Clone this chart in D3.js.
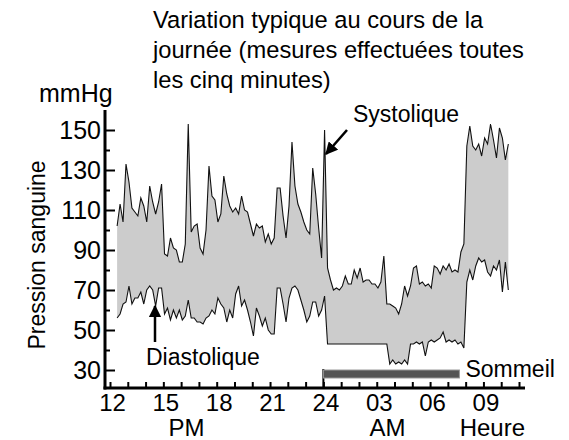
<!DOCTYPE html>
<html lang="fr">
<head>
<meta charset="UTF-8">
<title>Pression sanguine</title>
<script src="https://cdn.jsdelivr.net/npm/d3@7"></script>
<style>
    body {
        margin: 0;
        background: #fff;
        font-family: "Liberation Sans", Arial, Helvetica, sans-serif;
    }
</style>
</head>
<body>
<div id="chart"></div>
<script>
var width = 569,
    height = 440;

var titleLines = ["Variation typique au cours de la",
                  "journée (mesures effectuées toutes",
                  "les cinq minutes)"];

// one reading every 10 minutes, starting 12:24
var startHour = 12.4,
    stepHours = 10 / 60;

var systolic = [
    102, 113, 104, 133, 124, 111, 109, 107, 116, 112,
    104, 122, 114, 108, 114, 123, 88, 87, 96, 91,
    90, 84, 84, 93, 153, 99, 102, 103, 91, 88,
    100, 132, 117, 115, 104, 108, 127, 118, 112, 109,
    111, 108, 117, 110, 109, 103, 97, 103, 101, 102,
    94, 98, 93, 96, 121, 121, 107, 96, 112, 144,
    122, 113, 109, 104, 100, 98, 131, 118, 101, 86,
    150, 81, 75, 70, 71, 70, 72, 77, 73, 73,
    80, 76, 81, 74, 75, 75, 73, 73, 71, 74,
    87, 63, 63, 62, 61, 58, 63, 72, 67, 72,
    81, 82, 73, 74, 72, 73, 71, 82, 81, 78,
    82, 80, 83, 79, 80, 79, 89, 93, 142, 152,
    142, 140, 143, 137, 146, 143, 153, 145, 136, 151,
    146, 135, 143
];

var diastolic = [
    56, 58, 63, 64, 72, 63, 66, 66, 69, 63,
    70, 72, 70, 62, 71, 71, 58, 61, 55, 60,
    56, 60, 55, 57, 65, 56, 56, 54, 54, 53,
    56, 57, 60, 58, 66, 63, 61, 54, 60, 56,
    68, 72, 62, 65, 60, 54, 47, 61, 57, 52,
    56, 50, 48, 48, 71, 71, 63, 54, 66, 71,
    72, 70, 65, 60, 54, 57, 64, 64, 57, 60,
    67, 43, 43, 43, 43, 43, 43, 43, 43, 43,
    43, 43, 43, 43, 43, 43, 43, 43, 43, 43,
    43, 43, 33, 35, 33, 34, 33, 35, 33, 43,
    43, 44, 43, 44, 37, 44, 45, 44, 45, 46,
    49, 44, 45, 44, 45, 43, 44, 41, 74, 80,
    75, 82, 86, 84, 85, 79, 77, 82, 80, 85,
    69, 84, 70
];

var yTicks = [30, 50, 70, 90, 110, 130, 150];
var yMinorTicks = [40, 60, 80, 100, 120, 140];
var xTicks = d3.range(12, 36);
var xLabelHours = [12, 15, 18, 21, 24, 27, 30, 33];
var sleepHours = [24, 31.65];
var periodLabels = ["PM", "AM", "Heure"];
var periodHours = [16.3, 27.6, 33.5];

var font = "'Liberation Sans', Arial, Helvetica, sans-serif";
var axisY = 388, axisX = 105;

var x = d3.scaleLinear().domain([12, 35]).range([110, 519]);
var y = d3.scaleLinear().domain([30, 150]).range([370, 130]);

var svg = d3.select("#chart").append("svg")
    .attr("width", width)
    .attr("height", height)
    .style("font-family", font);

function hourOf(i) { return startHour + i * stepHours; }

// band between the two series
var band = d3.area()
    .x(function(d, i) { return x(hourOf(i)); })
    .y0(function(d, i) { return y(diastolic[i]); })
    .y1(function(d) { return y(d); });

svg.append("path")
    .datum(systolic)
    .attr("d", band)
    .attr("fill", "#cccccc");

var line = d3.line()
    .x(function(d, i) { return x(hourOf(i)); })
    .y(function(d) { return y(d); });

[systolic, diastolic].forEach(function(s) {
    svg.append("path")
        .datum(s)
        .attr("d", line)
        .attr("fill", "none")
        .attr("stroke", "#111")
        .attr("stroke-width", 1.1)
        .attr("stroke-linejoin", "miter");
});

// y axis
var yAxis = svg.append("g")
    .attr("transform", "translate(" + axisX + ",0)")
    .call(d3.axisLeft(y).tickValues(yTicks).tickSizeInner(-10).tickSizeOuter(0).tickPadding(4));
yAxis.select(".domain").remove();
yAxis.attr("font-size", 25).attr("font-family", font);
yAxis.selectAll("line").attr("stroke-width", 2);

var yMinor = svg.append("g")
    .attr("transform", "translate(" + axisX + ",0)")
    .call(d3.axisLeft(y).tickValues(yMinorTicks).tickSizeInner(-5).tickSizeOuter(0).tickFormat(""));
yMinor.select(".domain").remove();
yMinor.selectAll("line").attr("stroke-width", 2);

svg.append("line")
    .attr("x1", axisX).attr("x2", axisX)
    .attr("y1", y(160)).attr("y2", axisY + 1.5)
    .attr("stroke", "#000").attr("stroke-width", 3);

// x axis
function fmtHour(h) {
    if (xLabelHours.indexOf(h) < 0) return "";
    var v = h > 24 ? h - 24 : h;
    return v < 10 ? "0" + v : "" + v;
}

var xAxis = svg.append("g")
    .attr("transform", "translate(0," + axisY + ")")
    .call(d3.axisBottom(x).tickValues(xTicks).tickSizeInner(-6).tickSizeOuter(0).tickPadding(6).tickFormat(fmtHour));
xAxis.select(".domain").remove();
xAxis.attr("font-size", 24).attr("font-family", font);
xAxis.selectAll("line").attr("stroke-width", 2);
xAxis.selectAll("text").attr("dx", 2);

svg.append("line")
    .attr("x1", axisX - 1.5).attr("x2", 525)
    .attr("y1", axisY).attr("y2", axisY)
    .attr("stroke", "#000").attr("stroke-width", 3);

svg.selectAll(".period")
    .data(periodLabels)
    .enter().append("text")
    .attr("class", "period")
    .attr("x", function(d, i) { return x(periodHours[i]); })
    .attr("y", 436)
    .attr("text-anchor", "middle")
    .attr("font-size", 24)
    .text(function(d) { return d; });

// sleep bar
svg.append("line")
    .attr("x1", x(sleepHours[0])).attr("x2", x(sleepHours[0]))
    .attr("y1", axisY).attr("y2", 369)
    .attr("stroke", "#000").attr("stroke-width", 2);

svg.append("rect")
    .attr("x", x(sleepHours[0]))
    .attr("y", 370)
    .attr("width", x(sleepHours[1]) - x(sleepHours[0]))
    .attr("height", 8)
    .attr("fill", "#555")
    .attr("stroke", "#999")
    .attr("stroke-width", 1);

svg.append("text")
    .attr("x", x(sleepHours[1]) + 6)
    .attr("y", 377)
    .attr("font-size", 23)
    .text("Sommeil");

// titles and labels
svg.append("text")
    .attr("x", 153)
    .attr("font-size", 23.7)
    .selectAll("tspan")
    .data(titleLines)
    .enter().append("tspan")
    .attr("x", 153)
    .attr("y", function(d, i) { return 28 + i * 30; })
    .text(function(d) { return d; });

svg.append("text")
    .attr("x", 39)
    .attr("y", 102)
    .attr("font-size", 25)
    .text("mmHg");

svg.append("text")
    .attr("transform", "translate(45,255) rotate(-90)")
    .attr("text-anchor", "middle")
    .attr("font-size", 23)
    .text("Pression sanguine");

// arrows
var defs = svg.append("defs");
defs.append("marker")
    .attr("id", "head")
    .attr("viewBox", "0 0 10 10")
    .attr("refX", 9).attr("refY", 5)
    .attr("markerWidth", 5).attr("markerHeight", 5)
    .attr("markerUnits", "strokeWidth")
    .attr("orient", "auto")
    .append("path")
    .attr("d", "M0,0L10,5L0,10Z")
    .attr("fill", "#000");

svg.append("line")
    .attr("x1", 347).attr("y1", 130)
    .attr("x2", 326).attr("y2", 154)
    .attr("stroke", "#000").attr("stroke-width", 2.5)
    .attr("marker-end", "url(#head)");

svg.append("text")
    .attr("x", 353)
    .attr("y", 122)
    .attr("font-size", 23)
    .text("Systolique");

svg.append("line")
    .attr("x1", 155).attr("y1", 342)
    .attr("x2", 155).attr("y2", 306)
    .attr("stroke", "#000").attr("stroke-width", 2.5)
    .attr("marker-end", "url(#head)");

svg.append("text")
    .attr("x", 146)
    .attr("y", 365)
    .attr("font-size", 23)
    .text("Diastolique");
</script>
</body>
</html>
